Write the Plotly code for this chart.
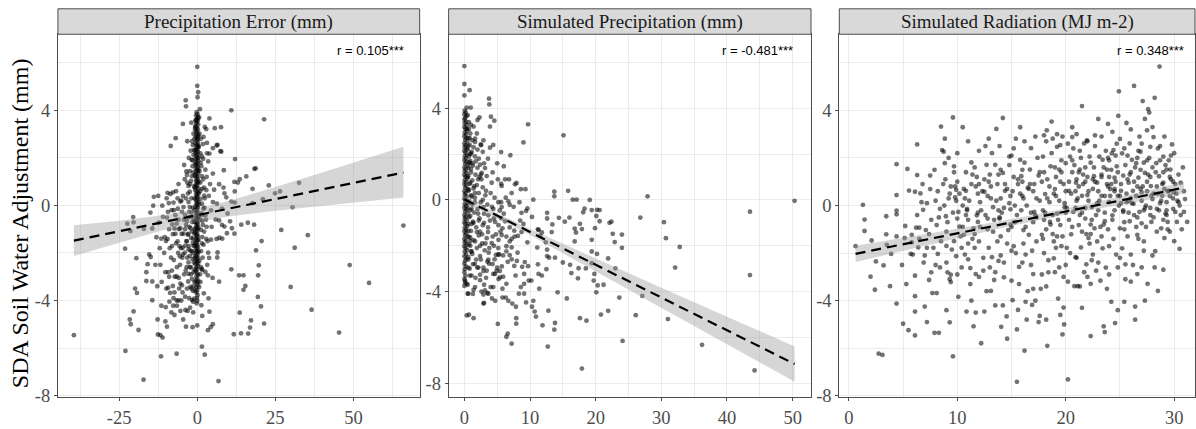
import plotly.graph_objects as go

# ---------------- data ----------------
panel_titles = ["Precipitation Error (mm)", "Simulated Precipitation (mm)", "Simulated Radiation (MJ m-2)"]
r_labels = ["r = 0.105***", "r = -0.481***", "r = 0.348***"]

x_ticks_1 = [-25, 0, 25, 50]
x_ticks_2 = [0, 10, 20, 30, 40, 50]
x_ticks_3 = [0, 10, 20, 30]
y_ticks = [-8, -4, 0, 4]

# Panel 1: Precipitation Error vs SDA adjustment
p1_scatter = [
(0,5.83),(0,5.03),(0.3,4.76),(0.1,4.55),(-3.7,4.42),(-3.6,4.17),(0.85,4.05),(10.9,4.0),(21.4,3.62),(3.9,3.66),(-4.6,3.43),(-1.9,3.48),(5.6,3.25),(7.6,3.29),(2.9,3.21),(-6.9,2.83),(-8.5,2.5),(1.8,2.58),(3.1,2.63),(5.0,2.41),(6.2,2.52),(6.5,2.55),(7.4,2.28),(7.7,2.26),(12.1,1.95),(1.0,2.19),(3.1,2.19),(3.9,2.18),(1.9,1.96),(3.5,1.85),(18.3,1.54),(18.7,1.56),(8.5,1.48),(15.7,1.22),(13.6,1.10),(13.0,0.96),(11.9,0.99),(5.0,1.34),(-6.0,0.9),(-3.2,0.96),(-3.5,1.43),(-3.3,1.28),(22.9,0.84),(32.6,0.95),(26.5,0.59),(24.9,0.51),(21.0,0.26),(17.7,0.70),(12.0,0.59),(8.7,0.51),(7.0,0.89),(2.9,0.64),(5.4,0.66),(2.2,0.41),(-13.9,0.36),(-9.5,0.53),(-8.6,0.48),(-7.8,0.55),(-5.4,0.16),(-7.6,0.12),(-9.1,0.1),(-11.2,-0.01),(-14.1,-0.01),(10.9,0.16),(12.0,0.12),(30.5,-0.08),(17.7,0.1),
(-20.5,-0.49),(-20.4,-0.71),(-21.4,-1.08),(-22.4,-0.77),(-17.1,-0.99),(-14.4,-0.97),(-9.4,-0.27),(-9.7,-0.51),(-11.0,-0.48),(-12.3,-0.73),(-13.1,-1.34),(-11.5,-1.40),(-10.4,-1.34),(-9.5,-1.41),(-7.8,-1.21),(-7.3,-0.97),(-6.6,-0.77),(-5.4,-0.96),(-4.4,-1.19),(-6.3,-1.51),(-8.1,-1.71),(-5.7,-1.71),(-4.7,-1.78),(-3.8,-1.69),(-2.8,-1.85),(-4.0,-1.99),(-4.6,-2.07),(-5.6,-2.14),
(1.6,-0.64),(2.8,-0.6),(5.9,-0.59),(7.0,-0.63),(8.7,-0.89),(10.5,-0.67),(14.1,-0.81),(16.2,-0.73),(18.2,-0.81),(26.9,-1.03),(35.4,-1.25),(31.2,-1.78),(20.6,-1.5),(18.8,-1.89),(11.9,-1.19),(8.0,-1.40),(7.1,-1.36),(6.2,-1.41),(4.4,-1.44),(2.9,-1.41),(1.6,-1.33),(3.5,-1.99),(6.5,-1.98),(6.4,-2.19),(3.8,-2.21),(1.6,-2.72),(3.4,-2.94),(4.9,-3.05),(7.0,-3.21),(10.9,-2.69),(13.4,-2.94),(14.8,-2.94),(19.7,-2.52),(19.5,-2.94),(15.4,-3.39),(14.8,-3.55),(19.4,-3.85),(20.4,-4.25),(29.9,-3.43),(36.6,-4.39),(48.8,-2.51),(55.0,-3.26),(45.4,-5.35),(3.6,-3.91),(3.9,-4.47),(13.6,-4.51),(11.7,-5.42),(14.0,-5.38),(16.3,-5.39),(16.9,-5.14),(17.2,-4.84),(21.4,-4.97),(3.4,-5.25),(4.3,-5.12),(5.0,-5.0),(1.6,-4.65),(1.5,-5.94),(2.4,-6.28),(6.8,-7.39),(66.0,-0.85),
(-39.5,-5.46),(-23.0,-6.12),(-17.2,-7.33),(-11.6,-6.35),(-6.6,-6.24),(-11.8,-5.46),(-11.1,-5.56),(-12.6,-5.43),(-18.8,-5.24),(-21.3,-5.0),(-21.6,-4.80),(-20.4,-4.46),(-19.3,-3.68),(-19.9,-3.5),(-23.1,-1.82),(-19.5,-2.22),(-15.4,-2.06),(-14.9,-2.17),(-15.9,-2.47),(-16.3,-2.81),(-16.3,-3.18),(-14.4,-3.2),(-14.4,-3.99),(-12.7,-4.80),(-11.5,-4.22),(-10.2,-4.88),(-9.7,-5.10),(-10.1,-4.28),(-11.4,-3.22),(-10.2,-2.81),(-9.3,-2.81),(-8.1,-2.74),(-9.3,-3.46),(-9.9,-3.5),(-8.7,-3.68),(-7.3,-3.66),(-7.8,-3.39),(-4.9,-3.36),(-3.7,-2.74),(-6.6,-2.99),(-5.9,-3.05),(-5.4,-3.29),(-4.7,-3.66),(-3.9,-3.84),(-6.6,-4.0),(-6.0,-4.0),(-8.9,-4.05),(-7.7,-4.22),(-6.5,-4.22),(-5.4,-4.44),(-7.3,-4.61),(-3.1,-4.44),(-1.7,-3.98),(-1.3,-4.05),(-1.0,-3.92),(-3.6,-5.10),(-1.5,-5.12),(0,-5.05),
(-7.0,-0.41),(-6.2,-0.14),(-4.9,-0.27),(-4.4,-0.07),(-2.8,0.14),(-2.4,-0.07),(-2.6,-0.27),(-2.0,-0.48),(-3.3,-0.66),(-3.6,-0.82),(-2.2,-0.96),(-1.7,-1.10),(-3.0,-1.23),(-2.0,-1.37),(-3.3,-1.51),(-1.4,-1.58),(-2.7,-1.71),(-1.7,-1.92),(-2.4,-2.13),(-1.5,-2.26),(-2.8,-2.40),(-2.0,-2.61),(-1.2,-2.81),(-2.8,-2.88),(-1.7,-3.09),(-0.9,-3.22),(-2.2,-3.43),(-1.4,-3.59),(-2.4,0.58),(-2.8,0.82),(-2.0,1.03),(-1.7,1.23),(-2.4,1.44),(-1.5,1.65),(-1.8,1.92),(-1.2,2.13),(-1.0,2.33),(-1.4,2.54),(-0.9,2.81),(-1.2,3.02),(-0.6,3.29),(-0.5,3.57),
(1.0,0.27),(1.5,0.07),(2.0,-0.14),(1.3,-0.34),(2.6,-0.41),(1.8,-0.82),(1.2,-1.03),(2.0,-1.65),(1.2,-1.92),(0.7,-2.33),(1.4,-2.67),(1.0,-3.22),(0.6,-3.43),(1.5,1.23),(1.0,0.96),(2.2,0.75),(1.3,1.65),(0.7,1.44),(1.5,2.06),(0.4,2.47),(2.0,2.88),(0.7,3.02),(5.0,0.14),(4.4,-0.21),(6.3,0.07),(7.9,-0.14),(9.3,0.34),(8.4,0.75),(9.7,-0.34),(7.9,-0.82),(9.5,-1.17),(11.1,-0.96),
]
p1_cloud = [
(-9.0,-1.0),(-8.2,-0.2),(-7.5,-2.3),(-6.8,-1.6),(-6.0,-0.6),(-5.5,-2.5),(-5.0,-1.2),(-4.6,0.4),(-4.2,-2.9),(-3.9,-0.4),(-3.5,-1.5),(-3.2,-2.2),(-2.9,-3.2),(-2.5,-0.9),(-2.2,-1.9),(-1.9,0.3),(-1.6,-0.7),(-1.3,-1.4),(-1.1,-2.4),(-1.0,0.8),(-0.9,-1.0),(-1.5,1.9),(-2.1,2.3),(-1.2,1.4),(-3.0,0.5),(-4.0,1.1),(-5.2,-1.8),(-6.5,-2.6),(-7.2,-3.0),(-8.4,-2.2),(-10.6,-2.0),(-12.0,-1.8),(-13.4,-2.5),(-8.0,-0.8),(-6.3,0.3),(-9.8,0.3),(-12.5,0.4),(-15.0,-0.3),(-5.8,-3.5),(-4.5,-4.8),(-3.3,-3.5),(-2.3,-4.3),(-8.3,-4.5),(-2.0,-2.9),(-1.2,-3.4),(1.2,-2.6),(2.2,-1.1),(1.5,-1.6),(3.0,-0.9),(2.4,0.3),(1.9,1.1),(1.1,1.8),(2.6,1.5),(3.7,0.4),(4.6,-0.9),(3.2,-2.5),(2.1,-3.7),(1.3,-4.2),(0.9,-2.9),(0.8,-0.6),(0.9,0.6),(1.1,2.8),(2.4,3.3),(0.6,3.7),(-1.8,-0.3),(-2.9,-0.5),(-3.9,-1.0),(-1.4,-0.1),(-2.3,0.9),
(-7.5,-0.2),(-6.8,0.6),(-5.9,-1.0),(-5.1,0.2),(-4.3,-0.6),(-3.6,0.3),(-2.9,-1.2),(-2.4,-2.6),(-1.9,-3.5),(-1.5,-2.0),(-1.1,-0.6),(-1.2,-1.7),(-3.4,-2.6),(-4.8,-2.2),(-6.1,-2.0),(-7.0,-1.2),(-8.8,-1.8),(-10.0,-1.5),(-11.8,-2.5),(-12.8,-3.4),(-9.0,-3.0),(-7.6,-3.9),(-5.1,-4.0),(-3.8,-4.4),(-2.6,-3.9),(-1.3,-4.5),(-4.2,1.7),(-2.7,2.0),(-1.7,2.7),(-3.2,2.7),(1.7,-2.2),(2.6,-2.8),(2.3,-0.1),(3.3,-1.5),(4.1,0.9),(3.0,1.2),(1.5,0.7),(1.6,-0.4),
]
p1_column = [
(-0.2,3.92),(0.1,3.84),(-0.4,3.78),(0.2,3.71),(-0.1,3.65),(-0.5,3.58),(0.0,3.52),(-0.3,3.46),(0.3,3.40),(-0.6,3.33),(-0.1,3.27),(0.2,3.2),(-0.4,3.14),(0.0,3.08),(-0.2,3.01),(0.3,2.95),(-0.5,2.9),(-0.1,2.84),(0.1,2.78),(-0.3,2.72),(0.2,2.66),(-0.6,2.6),(0.0,2.55),(-0.2,2.49),(0.3,2.43),(-0.4,2.38),(-0.1,2.32),(0.2,2.26),(-0.5,2.2),(0.0,2.15),(-0.3,2.09),(0.1,2.03),(-0.6,1.97),(-0.1,1.92),(0.3,1.86),(-0.4,1.8),(0.0,1.74),(-0.2,1.69),(0.2,1.63),(-0.5,1.57),(-0.1,1.52),(0.1,1.46),(-0.3,1.4),(0.3,1.34),(-0.6,1.29),(0.0,1.23),(-0.2,1.17),(0.2,1.11),(-0.4,1.06),(-0.1,1.0),(0.1,0.94),(-0.5,0.88),(0.0,0.83),(-0.3,0.77),(0.3,0.71),(-0.7,0.65),(-0.1,0.6),(0.2,0.54),(-0.4,0.48),(0.0,0.42),(-0.2,0.37),(0.1,0.31),(-0.5,0.25),(-0.1,0.19),(0.3,0.14),(-0.3,0.08),(0.0,0.02),(-0.6,-0.04),(0.2,-0.09),(-0.2,-0.15),(0.0,-0.21),(-0.4,-0.27),(0.1,-0.32),(-0.1,-0.38),(-0.5,-0.44),(0.3,-0.5),(-0.2,-0.55),(0.0,-0.61),(-0.6,-0.67),(-0.1,-0.73),(0.2,-0.78),(-0.3,-0.84),(0.0,-0.9),(-0.5,-0.96),(0.1,-1.01),(-0.2,-1.07),(-0.7,-1.13),(0.0,-1.19),(-0.3,-1.24),(0.2,-1.3),(-0.1,-1.36),(-0.5,-1.42),(0.1,-1.47),(-0.2,-1.53),(-0.6,-1.59),(0.0,-1.65),(-0.3,-1.7),(0.2,-1.76),(-0.1,-1.82),(-0.5,-1.88),(0.0,-1.93),(-0.3,-1.99),(0.1,-2.05),(-0.6,-2.11),(-0.1,-2.16),(0.2,-2.22),(-0.4,-2.28),(0.0,-2.34),(-0.2,-2.4),(-0.6,-2.47),(0.1,-2.54),(-0.3,-2.61),(0.0,-2.68),(-0.5,-2.76),(-0.1,-2.84),(0.2,-2.92),(-0.3,-3.0),(0.0,-3.09),(-0.5,-3.18),(-0.1,-3.27),(0.1,-3.36),(-0.3,-3.46),(0.0,-3.56),(-0.2,-3.67),(0.1,-3.78),(-0.1,-3.9),(0.0,-4.02),(-0.2,-4.12),
(0.4,2.5),(-0.7,2.3),(0.4,2.0),(-0.7,1.75),(0.4,1.5),(-0.8,1.25),(0.4,1.0),(-0.8,0.75),(0.5,0.5),(-0.9,0.3),(0.5,0.05),(-0.9,-0.2),(0.5,-0.45),(-0.9,-0.7),(0.4,-0.95),(-0.9,-1.2),(0.4,-1.45),(-0.8,-1.7),(0.4,-1.95),(-0.8,-2.2),(0.3,-2.45),(-0.8,-2.7),(0.3,-3.2),(-0.7,-3.6),(0.3,2.9),(-0.7,3.2),(0.2,3.6),
]
p1_fit_x = [-39.5, 66.0]
p1_fit_y = [-1.48, 1.38]
p1_band_x = [-39.5, -25, -12, -1, 10, 25, 40, 52, 66]
p1_band_hi = [-0.83, -0.64, -0.42, -0.17, 0.19, 0.77, 1.39, 1.90, 2.47]
p1_band_lo = [-2.13, -1.58, -1.08, -0.72, -0.47, -0.22, -0.01, 0.15, 0.33]

# Panel 2: Simulated Precipitation vs SDA adjustment
p2_scatter = [
(0,5.84),(0,5.06),(0,4.56),(0.8,4.79),(0.35,4.03),(0.96,4.03),(3.75,4.42),(3.8,4.17),(4.05,3.63),(4.56,3.46),(3.9,3.2),(2.0,3.49),(1.0,3.28),(2.5,2.42),(9.7,3.3),(15.1,2.82),(9.0,2.51),(3.9,2.28),(5.6,2.09),(7.0,1.95),(6.0,1.47),(6.8,0.90),(5.6,0.71),(7.7,0.68),(7.95,0.74),(8.6,0.47),(9.3,0.47),(10.5,0.01),(13.7,0.36),(13.7,0.16),(15.8,0.4),(16.5,0.01),(17.1,0.01),(19.1,0.0),(27.9,0.16),(50.3,-0.04),(43.5,-0.51),(26.8,-0.77),(30.4,-0.97),(30.7,-1.67),(32.8,-2.05),(32.1,-2.95),(43.5,-3.28),(36.2,-6.32),(44.2,-7.44),(17.9,-7.36),(24.1,-6.15),(31.0,-5.2),(26.1,-5.03),(21.9,-4.84),(20.8,-5.0),(23.6,-4.26),(27.1,-4.19),(20.1,-4.03),(18.6,-5.27),(17.6,-5.16),(15.6,-4.3),(14.2,-4.03),(12.8,-4.83),(12.7,-6.4),(13.8,-5.37),(13.7,-5.66),(11.9,-5.47),(10.9,-5.09),(10.7,-4.87),(10.5,-4.40),(10.3,-4.66),(9.4,-4.47),(9.1,-4.09),(7.9,-5.16),(7.9,-5.4),(7.2,-6.27),(6.6,-5.83),(6.4,-5.97),(5.1,-5.41),(1.4,-5.16),(0.7,-5.01),(0.35,-5.04),(3.0,-4.49),(2.9,-4.13),(3.5,-4.06),(1.4,-3.92),(0.5,-4.09),(0.35,-3.66),(5.8,-4.26),(6.3,-4.26),(6.7,-4.40),(7.3,-4.52),(7.85,-4.66),(8.3,-4.09),(8.6,-3.80),(9.1,-3.66),(9.8,-3.52),(10.2,-3.52),(11.4,-3.87),(11.8,-3.30),(12.5,-3.02),(12.6,-2.45),(12.9,-2.52),(12.6,-2.17),(13.8,-2.52),(15.0,-2.73),(16.1,-2.83),(16.3,-3.19),(17.3,-3.42),(17.4,-2.98),(18.5,-2.99),(19.4,-2.76),(19.8,-3.23),(19.7,-3.52),(20.3,-3.73),(21.2,-3.70),(21.9,-2.55),(19.4,-1.74),(19.4,-2.25),(20.2,-2.35),(20.1,-0.70),(20.2,-0.43),(20.6,-0.44),(20.6,-0.93),(19.9,-1.23),(22.1,-1.0),(22.4,-0.95),(22.6,-1.48),(22.9,-1.84),(24.0,-1.51),(24.0,-2.09),(23.0,-2.99),(18.1,-0.54),(18.3,-0.38),(19.4,-0.44),(17.6,-1.04),(17.9,-1.27),(16.8,-1.25),(16.8,-1.81),(17.0,-1.42),(16.0,-0.77),(15.3,-0.95),(14.4,-0.78),(13.4,-1.07),(13.3,-1.40),(12.6,-0.56),(12.6,-0.81),(11.8,-1.42),(11.3,-1.31),(12.4,-1.85),(11.1,-2.08),(11.2,-2.81),(11.3,-3.23),(9.7,-2.89),(9.2,-2.71),(9.1,-3.23),(8.8,-2.92),(8.0,-2.66),(7.6,-2.88),(7.2,-2.59),(6.9,-2.41),(6.4,-2.02),(5.9,-2.42),(5.3,-2.38),(5.0,-2.95),(4.6,-2.59),(3.75,-2.78),(3.5,-2.69),(2.9,-2.95),(1.97,-2.95),(2.4,-3.26),(4.4,-3.23),(4.9,-3.09),(5.2,-3.45),(5.9,-3.35),(6.4,-3.66),(5.8,-3.87),(4.0,-3.80),
(9.6,-0.37),(9.4,-0.48),(8.7,-0.56),(8.5,-0.90),(7.6,-1.34),(7.65,-1.60),(8.15,-1.57),(9.6,-1.85),(9.0,-1.05),(10.3,-0.74),(11.2,-1.28),(11.55,-1.57),(5.6,-0.1),(5.4,-0.46),(6.7,-0.06),(6.9,-0.21),(6.2,-0.93),(5.8,-1.24),(5.2,-1.10),(5.5,-1.38),(5.2,-1.74),(6.4,-1.60),(6.9,-1.81),(7.2,-2.07),(6.4,-2.24),
(2.54,2.39),(1.63,2.68),(1.63,2.53),(1.0,2.03),(1.73,1.68),(2.39,1.54),(3.15,1.39),(2.64,1.18),(3.4,1.04),(2.1,0.9),(4.16,0.75),(5.17,-0.1),(4.4,-0.39),(2.9,-0.31),(1.6,-0.1),(3.65,-0.67),(4.67,-0.96),(2.39,-1.38),(3.4,-1.67),(1.63,-1.81),(4.16,-1.88),(5.17,-2.1),(1.12,-2.24),(2.39,-2.45),(3.65,-2.6),(5.17,-2.38),(0.61,-2.95),(2.13,-2.95),(3.4,-3.09),(4.67,-3.23),(5.43,-3.38),(0.11,-3.52),(1.63,-3.8),(3.14,-3.95),(4.4,-3.8),(0.61,-4.09),(2.9,-4.52),(3.65,-4.09),(5.68,0.61),(5.68,-0.31),(5.68,-1.53),
(1.5,0.6),(2.1,-0.6),(2.7,-1.5),(3.3,0.4),(3.9,-0.9),(4.5,-2.0),(5.1,0.9),(5.7,-2.9),(6.3,0.1),(6.9,-1.2),(7.5,-0.3),(8.1,-2.3),(8.7,-1.4),(1.8,-2.6),(2.4,-2.0),(3.0,-3.7),(3.6,-1.2),(4.2,-0.3),(4.8,-2.4),(5.4,-3.1),(6.0,-0.6),(6.6,-2.7),(7.2,-1.7),(7.8,-3.3),(8.4,-0.1),(1.2,1.6),(2.0,2.2),(2.9,2.6),(3.6,1.8),(4.4,2.4),(5.0,1.6),(6.2,0.9),(7.2,0.3),(1.7,-3.4),(2.6,-4.0),(4.7,-4.4),(3.2,-1.9),(2.2,-0.9),(1.1,-0.4),(1.4,-1.0),(0.9,-1.8),(1.9,-1.4),(2.8,0.0),(3.7,-2.3),(4.3,-1.6),(5.6,-0.8),(0.8,1.6),(1.6,0.3),(2.5,1.1),(1.3,-2.8),
]
p2_cluster = [
(0.5,3.7),(0.7,3.4),(0.4,3.1),(0.9,2.9),(0.6,2.7),(1.2,2.6),(0.8,2.4),(1.4,2.3),(0.5,2.2),(1.1,2.1),(0.7,1.9),(1.6,1.9),(0.9,1.7),(1.3,1.5),(0.6,1.4),(2.0,1.4),(1.0,1.2),(1.7,1.1),(0.5,1.0),(2.3,1.0),(1.2,0.85),(0.8,0.7),(1.9,0.65),(2.8,0.55),(1.4,0.5),(0.6,0.4),(2.2,0.3),(1.0,0.2),(3.2,0.2),(1.6,0.1),(0.7,-0.05),(2.5,-0.1),(1.2,-0.2),(0.5,-0.35),(2.0,-0.4),(1.5,-0.55),(3.0,-0.6),(0.9,-0.7),(2.3,-0.8),(1.3,-0.95),(0.6,-1.05),(2.8,-1.1),(1.8,-1.2),(1.0,-1.35),(3.6,-1.4),(2.2,-1.55),(0.7,-1.6),(1.4,-1.75),(2.7,-1.9),(0.9,-2.0),(1.9,-2.1),(3.1,-2.2),(1.2,-2.35),(0.6,-2.5),(2.5,-2.6),(1.6,-2.8),(0.8,-3.0),(2.9,-3.1),(1.1,-3.3),(0.5,-3.7),(2.4,-3.5),(1.3,-4.1),(4.2,-4.3),(3.0,-1.0),(3.5,-0.2),(4.0,0.3),(4.5,-0.8),(4.8,-1.5),(3.8,-2.1),(4.3,-2.8),(3.3,-3.4),(2.6,0.9),(3.0,1.6),(2.2,1.8),(2.8,2.1),(1.9,2.9),(1.4,3.2),(2.3,3.6),(4.3,1.2),(4.6,0.1),
(0.05,3.9),(0.2,3.82),(0.0,3.74),(0.3,3.66),(0.1,3.58),(0.0,3.5),(0.25,3.42),(0.05,3.34),(0.35,3.26),(0.0,3.18),(0.15,3.1),(0.4,3.02),(0.05,2.94),(0.25,2.86),(0.0,2.78),(0.3,2.7),(0.1,2.62),(0.45,2.54),(0.0,2.46),(0.2,2.38),(0.05,2.3),(0.35,2.22),(0.0,2.14),(0.15,2.06),(0.4,1.98),(0.05,1.9),(0.25,1.82),(0.0,1.74),(0.3,1.66),(0.1,1.58),(0.5,1.5),(0.0,1.42),(0.2,1.34),(0.05,1.26),(0.35,1.18),(0.0,1.1),(0.15,1.02),(0.45,0.94),(0.05,0.86),(0.25,0.78),(0.0,0.7),(0.3,0.62),(0.1,0.54),(0.5,0.46),(0.0,0.38),(0.2,0.3),(0.05,0.22),(0.35,0.14),(0.0,0.06),(0.15,-0.02),(0.45,-0.1),(0.05,-0.18),(0.25,-0.26),(0.0,-0.34),(0.3,-0.42),(0.1,-0.5),(0.5,-0.58),(0.0,-0.66),(0.2,-0.74),(0.05,-0.82),(0.35,-0.9),(0.0,-0.98),(0.15,-1.06),(0.45,-1.14),(0.05,-1.22),(0.25,-1.3),(0.0,-1.38),(0.3,-1.46),(0.1,-1.54),(0.5,-1.62),(0.0,-1.7),(0.2,-1.78),(0.05,-1.86),(0.35,-1.94),(0.0,-2.02),(0.15,-2.1),(0.4,-2.18),(0.05,-2.26),(0.25,-2.36),(0.0,-2.46),(0.3,-2.56),(0.1,-2.66),(0.0,-2.78),(0.2,-2.9),(0.05,-3.02),(0.0,-3.16),(0.15,-3.3),(0.0,-3.45),(0.1,-3.6),(0.0,-3.75),
(0.7,3.1),(0.8,2.7),(0.6,2.35),(0.9,2.0),(0.7,1.65),(1.0,1.35),(0.6,1.05),(0.9,0.75),(0.7,0.45),(1.1,0.15),(0.6,-0.15),(0.9,-0.45),(0.7,-0.75),(1.1,-1.05),(0.6,-1.35),(0.9,-1.65),(0.7,-1.95),(1.0,-2.25),(0.6,-2.6),(0.8,-3.3),
]
p2_fit_x = [0.0, 50.3]
p2_fit_y = [0.03, -7.16]
p2_band_x = [0, 5, 10, 20, 30, 40, 50.3]
p2_band_hi = [0.18, -0.575, -1.27, -2.565, -3.833, -5.095, -6.39]
p2_band_lo = [-0.12, -0.795, -1.53, -3.095, -4.687, -6.285, -7.93]

# Panel 3: Simulated Radiation vs SDA adjustment
p3_scatter = [
(0.62,-1.71),(1.3,0.03),(1.45,-0.59),(1.45,-1.07),(2.0,-2.99),(2.1,-1.47),(2.4,-3.54),(2.5,-2.35),(2.75,-6.23),(3.1,-6.28),(3.2,-2.52),(3.45,-0.45),(3.45,-1.21),(3.5,-1.65),(3.8,-3.39),(3.9,-2.03),(4.4,1.74),(4.4,0.44),(4.4,-0.21),(4.4,-0.37),(4.4,-1.30),(4.4,-4.12),(4.9,-2.50),(5.0,-4.97),(5.15,-1.37),(5.2,-0.86),(5.4,1.54),(5.5,-5.24),(5.55,0.63),(5.7,-2.03),(5.8,-1.23),(5.8,-1.55),(5.9,-2.06),(6.1,0.58),(6.1,-5.46),(6.1,-3.81),(6.1,-2.95),(6.1,-4.46),(6.2,-0.93),(6.3,2.57),(6.3,1.28),(6.4,-1.76),(6.5,-0.93),(6.6,0.51),(6.7,0.14),(6.85,-0.18),(7.0,-4.25),(7.1,-1.03),(7.2,-1.78),(7.4,-3.13),(7.5,1.26),(7.5,0.69),(7.6,-2.81),(7.7,-3.68),(7.8,-1.78),(7.9,-5.35),(8.1,-3.68),(8.1,-0.82),(8.2,-2.03),(8.3,-5.35),(8.4,-0.14),(8.5,3.32),(8.6,2.33),(8.75,2.26),(8.85,2.81),(8.85,1.78),(8.95,-0.45),(9.0,-2.40),(9.1,-2.81),(9.2,0.30),(9.3,-4.91),(9.4,-3.22),(9.4,-2.91),(9.5,-1.85),(9.6,3.70),(9.6,-6.34),(9.7,1.65),(9.7,1.40),(9.8,0.34),(9.9,0.66),(9.9,-2.13),(10.0,-0.55),(10.1,-0.27),(10.1,-3.84),(10.2,-0.89),(10.4,-1.78),(10.5,0.0),(10.5,3.29),(10.6,-1.23),(10.7,-2.06),(10.8,0.62),(10.85,-4.46),(10.9,-0.14),(11.0,-2.26),(11.2,-2.63),(11.3,1.81),(11.4,1.30),(11.5,-0.96),(11.5,-5.08),(11.6,-1.78),(11.7,-2.88),(11.7,-4.50),(11.8,-0.41),(11.9,-0.69),(12.0,-1.51),(12.1,0.14),(12.2,-5.79),(12.4,-2.74),(12.5,-4.46),(12.5,0.58),(12.6,2.50),(12.7,1.71),(12.8,-0.55),(12.9,2.81),(12.9,-1.78),(13.1,-3.59),(13.2,-2.17),(13.3,-0.07),(13.4,-3.13),(13.5,1.71),(13.6,3.22),(13.7,-1.51),(13.8,-2.33),(13.9,-0.55),(14.05,-5.10),(14.2,3.68),(14.2,1.37),(14.3,-3.02),(14.4,0.62),(14.55,-4.66),(14.6,-5.60),(14.7,-1.03),(14.8,2.06),(14.9,-0.16),(15.0,-3.16),(15.1,-3.98),(15.2,-1.71),(15.3,0.0),(15.4,2.81),(15.5,-7.41),(15.5,-5.21),(15.6,-4.39),(15.7,-2.58),(15.8,3.29),(15.8,1.92),(15.9,1.23),(16.0,0.41),(16.1,-1.03),(16.2,-6.10),(16.3,-2.06),(16.3,-4.05),(16.4,-4.80),(16.5,0.75),(16.6,-1.23),(16.7,1.51),(16.8,2.41),(16.9,-4.18),(17.0,-2.88),(17.1,-0.27),(17.2,-0.41),(17.3,-1.51),(17.5,1.26),(17.6,-4.64),(17.7,-3.50),(17.8,-1.23),(17.9,2.06),(18.0,2.95),(18.1,0.48),(18.2,-4.80),(18.25,3.16),(18.3,-5.90),(18.4,-2.81),(18.5,0.14),(18.55,-0.69),(18.6,1.65),(18.7,3.53),(18.8,2.81),(18.9,-1.51),(18.9,-2.22),(19.0,0.69),(19.1,-1.78),(19.2,2.47),(19.2,-0.34),(19.3,-3.91),(19.4,1.51),(19.5,-0.82),(19.5,2.54),(19.6,-1.71),(19.7,-5.42),(19.8,-4.29),(19.85,-5.0),(19.9,-0.07),(20.0,1.78),(20.1,-1.78),(20.2,-7.31),(20.3,0.62),(20.4,2.06),(20.5,-1.21),(20.6,3.29),(20.6,2.88),(20.7,-0.27),(20.8,-3.39),(20.9,-2.17),(20.95,0.96),(21.1,-3.39),(21.2,-0.82),(21.3,1.51),(21.3,-3.40),(21.4,-1.76),(21.5,4.18),(21.5,0.41),(21.6,1.30),(21.7,2.61),(21.8,-0.55),(21.9,-2.47),(21.95,2.74),(22.0,0.44),(22.1,-1.37),(22.2,2.06),(22.3,-5.49),(22.3,-3.29),(22.4,-0.07),(22.5,-2.06),(22.6,1.23),(22.65,-0.96),(22.7,2.95),(22.8,-2.74),(22.9,-1.51),(22.9,0.96),(23.0,3.64),(23.1,2.06),(23.2,-3.16),(23.3,0.41),(23.3,-1.30),(23.4,1.92),(23.5,-5.08),(23.6,-5.32),(23.6,-0.66),(23.7,-2.61),(23.8,1.51),(23.9,3.43),(24.0,0.14),(24.0,-1.71),(24.1,0.69),(24.2,-4.05),(24.25,2.19),(24.3,-0.41),(24.4,2.33),(24.5,1.17),(24.55,-4.94),(24.65,-2.06),(24.7,1.65),(24.8,0.41),(24.85,3.77),(24.9,4.80),(25.0,-0.96),(25.1,0.62),(25.2,2.19),(25.3,-0.27),(25.3,1.26),(25.4,-4.05),(25.5,-2.47),(25.6,0.14),(25.6,3.47),(25.7,-1.30),(25.8,0.96),(25.9,2.61),(25.9,-0.66),(26.0,-2.06),(26.1,1.92),(26.2,0.62),(26.25,0.07),(26.3,5.03),(26.4,-4.25),(26.4,-4.80),(26.5,1.78),(26.6,-1.23),(26.6,-2.88),(26.7,1.17),(26.8,-0.27),(26.9,2.26),(27.0,0.55),(27.0,-0.75),(27.1,4.39),(27.2,-1.51),(27.3,3.64),(27.3,1.37),(27.4,0.0),(27.5,3.16),(27.55,-3.29),(27.6,4.05),(27.7,3.91),(27.8,2.47),(27.85,0.82),(27.9,-0.69),(28.0,0.27),(28.1,2.88),(28.2,4.53),(28.25,-1.92),(28.35,1.78),(28.4,-0.14),(28.5,-3.59),(28.6,1.23),(28.65,5.84),(28.7,2.50),(28.8,-0.96),(28.9,0.41),(29.0,2.06),(29.0,0.96),(29.1,-1.37),(29.2,-0.34),(29.3,1.51),(29.3,0.14),(29.4,-0.69),(29.5,0.62),(29.6,-1.10),(29.65,1.51),(29.7,1.10),(29.8,2.57),(29.9,-0.14),(29.95,0.55),(30.1,-0.27),(30.25,-0.69),(30.4,0.14),(30.5,-1.82),(30.6,0.96),(30.9,-0.27),(31.0,0.27),(31.2,-0.69),
]
p3_dense = [
(8.0,0.2),(8.3,-0.5),(8.7,0.9),(9.0,-1.1),(9.3,0.5),(9.6,-0.3),(10.0,1.0),(10.3,-1.3),(10.7,0.3),(11.0,-0.6),(11.3,0.9),(11.6,-1.2),(11.9,0.5),(12.2,-0.2),(12.5,1.1),(12.8,-1.0),(13.1,0.3),(13.4,-0.6),(13.7,0.9),(14.0,-1.3),(14.3,-0.1),(14.6,0.7),(14.9,-0.8),(15.2,1.2),(15.5,-0.4),(15.8,0.5),(16.1,-1.6),(16.4,0.0),(16.7,0.9),(17.0,-0.7),(17.3,0.3),(17.6,1.4),(17.9,-0.2),(18.2,-1.0),(18.5,0.8),(18.8,-0.4),(19.1,1.2),(19.4,0.2),(19.7,-1.3),(20.0,0.6),(20.3,-0.6),(20.6,1.4),(20.9,-0.1),(21.2,0.8),(21.5,-1.1),(21.8,1.6),(22.1,0.2),(22.4,-0.6),(22.7,1.0),(23.0,-0.2),(23.3,1.3),(23.6,0.4),(23.9,-1.0),(24.2,0.9),(24.5,-0.2),(24.8,1.4),(25.1,0.1),(25.4,-0.7),(25.7,1.1),(26.0,0.3),(26.3,-0.4),(26.6,0.8),(26.9,1.5),(27.2,-0.2),(27.5,0.6),(27.8,1.2),(28.1,-0.5),(28.4,0.8),(28.7,0.1),(29.0,1.4),(29.3,-0.2),(29.6,0.4),(29.9,1.0),(30.2,0.5),(30.5,0.0),
(12.0,0.9),(13.0,1.3),(14.0,0.3),(15.0,-0.9),(16.0,1.5),(17.0,0.6),(18.0,-0.6),(19.0,1.6),(20.0,-0.3),(21.0,0.2),(22.0,1.2),(23.0,0.6),(24.0,1.9),(25.0,0.4),(26.0,1.4),(27.0,0.2),(28.0,1.6),(29.0,-0.6),(19.5,1.0),(20.5,0.5),(21.5,-0.3),(22.5,0.7),(23.5,-0.8),(24.5,0.6),(25.5,1.7),(26.5,-0.9),(27.5,1.9),(28.5,0.5),(18.3,0.3),(17.8,1.0),(16.8,-0.3),(15.6,0.9),(14.8,0.1),(13.8,-0.2),(12.8,0.4),(11.8,1.2),(10.8,-0.4),(9.8,0.8),(21.0,1.1),(22.3,-1.2),(23.8,0.9),(25.8,-0.3),(27.8,-0.1),(29.4,0.6),(26.6,2.0),(24.6,2.1),(21.3,2.3),(19.6,1.9),
]
p3_extra = [
(6.3,-0.4),(6.8,0.9),(6.5,-1.4),(6.9,-2.4),(7.2,0.1),(7.6,-0.6),(7.9,1.5),(7.4,-1.2),(8.2,0.6),(8.5,-1.5),(8.8,0.0),(8.4,-2.6),(8.9,1.1),(9.1,-0.7),(9.4,0.8),(9.7,-1.5),(9.9,0.2),(9.3,-3.1),
(10.2,0.5),(10.5,-0.9),(10.8,1.4),(10.4,-2.6),(10.9,-0.2),(10.6,0.7),(11.1,0.2),(11.4,-1.4),(11.7,0.8),(11.9,-0.3),(11.2,-3.3),(11.6,1.6),(12.1,-0.9),(12.3,0.6),(12.6,-0.4),(12.9,1.0),(12.4,-2.2),(12.7,-3.6),
(13.1,0.8),(13.3,-1.1),(13.6,0.2),(13.9,-0.5),(13.5,-2.8),(13.8,1.3),(13.2,2.2),(14.1,-0.3),(14.4,0.9),(14.6,-1.6),(14.9,0.4),(14.3,-2.4),(14.8,1.7),(14.2,-4.2),
(15.1,0.6),(15.3,-0.7),(15.6,1.1),(15.9,-0.2),(15.4,-2.0),(15.7,-3.3),(15.2,2.4),(16.1,0.3),(16.3,-0.9),(16.6,0.7),(16.9,-1.9),(16.2,1.8),(16.8,-2.5),(16.5,-3.6),
(17.1,0.9),(17.3,-0.5),(17.6,0.2),(17.9,-1.4),(17.4,2.0),(17.8,-2.9),(17.2,-4.0),(18.1,-0.3),(18.3,1.1),(18.6,-0.8),(18.9,0.5),(18.4,-2.3),(18.7,2.2),(18.2,-3.4),(18.8,-1.2),
(19.1,0.4),(19.3,-0.6),(19.6,1.4),(19.9,0.1),(19.4,-2.6),(19.7,2.9),(19.2,-1.3),(19.8,-3.0),(20.1,-0.1),(20.3,1.0),(20.6,-0.9),(20.9,0.6),(20.4,-2.0),(20.7,2.4),(20.2,-3.2),(20.8,1.7),
(21.1,0.3),(21.3,-0.4),(21.6,0.9),(21.9,-1.2),(21.4,2.0),(21.7,-2.8),(21.2,1.4),(21.8,-0.1),(22.1,0.6),(22.3,-0.8),(22.6,1.6),(22.9,0.1),(22.4,-2.3),(22.7,2.5),(22.2,-1.6),(22.8,-0.4),(22.5,1.1),
(23.1,0.2),(23.3,1.2),(23.6,-0.3),(23.9,0.8),(23.4,-1.8),(23.7,2.3),(23.2,-0.9),(23.8,-3.5),(23.5,1.6),(24.1,0.4),(24.3,-0.6),(24.6,1.0),(24.9,0.0),(24.4,-1.4),(24.7,2.6),(24.2,1.5),(24.8,-2.6),(24.5,0.7),
(25.1,0.9),(25.3,-0.2),(25.6,0.5),(25.9,1.3),(25.4,-1.0),(25.7,2.1),(25.2,-1.8),(25.8,0.2),(25.5,-3.1),(26.1,0.1),(26.3,1.0),(26.6,-0.5),(26.9,0.7),(26.4,1.6),(26.7,-1.4),(26.2,-2.5),(26.8,2.9),(26.5,0.4),
(27.1,0.8),(27.3,-0.1),(27.6,1.3),(27.9,0.4),(27.4,-0.9),(27.7,2.0),(27.2,-1.9),(27.8,-0.4),(27.5,1.0),(28.1,0.5),(28.3,1.4),(28.6,-0.2),(28.9,0.9),(28.4,-1.1),(28.7,1.9),(28.2,-2.6),(28.8,0.2),
(29.1,0.7),(29.3,-0.4),(29.6,1.2),(29.9,0.3),(29.4,-1.0),(29.7,2.1),(29.2,1.7),(30.1,0.9),(30.3,0.2),(30.6,-0.4),(30.9,0.6),(30.4,1.3),(30.7,-1.0),
(19.2,3.0),(20.2,2.6),(21.0,3.0),(22.0,2.7),(23.3,2.9),(24.3,3.1),(25.0,2.8),(26.0,3.2),(27.0,2.6),(28.0,3.3),(29.1,2.9),(30.0,2.2),(18.2,2.7),(17.2,2.9),(16.2,2.7),(15.0,2.1),(13.9,2.5),(12.0,2.3),(11.0,2.7),(10.0,2.2),(9.2,2.0),(20.6,1.9),(22.3,1.8),(23.9,2.0),(25.4,2.4),(26.7,2.3),(28.5,2.4),(29.5,1.9),(30.8,1.6),(27.2,1.8),(24.0,1.2),(21.8,1.0),(19.8,0.9),(18.0,1.4),(16.0,1.0),(14.0,1.5),
(19.0,-2.8),(20.0,-2.5),(21.0,-2.2),(22.0,-3.0),(23.0,-2.4),(24.0,-2.9),(25.0,-2.2),(26.0,-3.2),(27.0,-2.6),(28.0,-2.1),(29.0,-2.7),(30.0,-1.5),(18.0,-2.0),(17.0,-3.5),(16.0,-2.4),(15.0,-1.9),(14.0,-2.1),(13.0,-2.6),(12.0,-3.0),(11.0,-1.6),(10.0,-2.9),(9.0,-1.7),(8.0,-2.5),(7.0,-2.1),(21.5,-4.3),(24.8,-4.4),(27.3,-4.0),(19.5,-4.6),(17.5,-4.9),(13.5,-4.2),(11.3,-4.0),(9.0,-4.4),(7.2,-4.9),(5.3,-3.3),
]
p3_fit_x = [0.62, 30.9]
p3_fit_y = [-2.03, 0.75]
p3_band_x = [0.62, 5, 10, 15, 20, 25, 30.9]
p3_band_hi = [-1.69, -1.36, -0.974, -0.571, -0.126, 0.37, 0.99]
p3_band_lo = [-2.37, -1.904, -1.372, -0.855, -0.378, 0.046, 0.51]

# ---------------- layout geometry ----------------
W, H = 1196, 429
x_domains = [[58 / W, 420 / W], [449 / W, 811.7 / W], [840 / W, 1.0]]
y_domain = [(H - 406) / H, (H - 35) / H]
strip_top = (H - 9) / H
x_ranges = [[-44.6, 71.2], [-2.4, 52.8], [-0.88, 31.92]]
y_ranges = [[-8.08, 7.2], [-8.62, 7.23], [-8.07, 7.2]]
x_minor = [[-37.5, -12.5, 12.5, 37.5, 62.5], [5, 15, 25, 35, 45], [5, 15, 25]]
y_minor = [-6, -2, 2, 6]
x_tick_sets = [x_ticks_1, x_ticks_2, x_ticks_3]
label_right = [406, 795.7, 1186.7]

SERIF = "Liberation Serif, Times New Roman, serif"
SANS = "Liberation Sans, Arial, sans-serif"
GRID = "#ebebeb"
FRAME = "#4d4d4d"

panels = [
    (p1_scatter + p1_cloud + p1_column, p1_fit_x, p1_fit_y, p1_band_x, p1_band_hi, p1_band_lo),
    (p2_scatter + p2_cluster, p2_fit_x, p2_fit_y, p2_band_x, p2_band_hi, p2_band_lo),
    (p3_scatter + p3_dense + p3_extra, p3_fit_x, p3_fit_y, p3_band_x, p3_band_hi, p3_band_lo),
]

fig = go.Figure()
shapes = []
annotations = []
for i, (pts, fx, fy, bx, bhi, blo) in enumerate(panels):
    sfx = "" if i == 0 else str(i + 1)
    xa, ya = "x" + sfx, "y" + sfx
    fig.add_trace(go.Scatter(
        x=[p[0] for p in pts], y=[p[1] for p in pts], mode="markers",
        marker=dict(size=4.8, color="rgba(0,0,0,0.55)", line=dict(width=0)),
        xaxis=xa, yaxis=ya, showlegend=False, hoverinfo="skip"))
    fig.add_trace(go.Scatter(
        x=bx + bx[::-1], y=bhi + blo[::-1], mode="lines", fill="toself",
        fillcolor="rgba(153,153,153,0.4)", line=dict(width=0),
        xaxis=xa, yaxis=ya, showlegend=False, hoverinfo="skip"))
    fig.add_trace(go.Scatter(
        x=fx, y=fy, mode="lines", line=dict(color="black", width=2.2, dash="10px,6px"),
        xaxis=xa, yaxis=ya, showlegend=False, hoverinfo="skip"))

    common = dict(showgrid=True, gridcolor=GRID, gridwidth=1, zeroline=False,
                  showline=True, mirror=True, linecolor=FRAME, linewidth=1,
                  ticks="outside", ticklen=3, tickwidth=1, tickcolor=FRAME,
                  tickfont=dict(family=SERIF, size=18.5, color="#4d4d4d"))
    xt = x_tick_sets[i]
    fig.layout["xaxis" + sfx] = dict(
        domain=x_domains[i], range=x_ranges[i], anchor=ya,
        tickvals=xt, ticktext=[str(v) for v in xt],
        minor=dict(tickvals=x_minor[i], showgrid=True, gridcolor=GRID, gridwidth=0.5, ticks=""),
        **common)
    fig.layout["yaxis" + sfx] = dict(
        domain=y_domain, range=y_ranges[i], anchor=xa,
        tickvals=y_ticks, ticktext=[str(v) for v in y_ticks],
        minor=dict(tickvals=y_minor, showgrid=True, gridcolor=GRID, gridwidth=0.5, ticks=""),
        **common)

    shapes.append(dict(type="rect", xref="paper", yref="paper",
                       x0=x_domains[i][0], x1=x_domains[i][1], y0=y_domain[1], y1=strip_top,
                       fillcolor="#d9d9d9", line=dict(color=FRAME, width=1), layer="above"))
    annotations.append(dict(xref="paper", yref="paper",
                            x=(x_domains[i][0] + x_domains[i][1]) / 2, y=(y_domain[1] + strip_top) / 2,
                            text=panel_titles[i], showarrow=False, xanchor="center", yanchor="middle",
                            font=dict(family=SERIF, size=19, color="#1a1a1a")))
    annotations.append(dict(xref="paper", yref="paper",
                            x=label_right[i] / W, y=(H - 52) / H,
                            text=r_labels[i], showarrow=False, xanchor="right", yanchor="middle",
                            font=dict(family=SANS, size=13, color="black")))

annotations.append(dict(xref="paper", yref="paper", x=20 / W, y=(H - 228) / H,
                        text="SDA Soil Water Adjustment (mm)", textangle=-90, showarrow=False,
                        xanchor="center", yanchor="middle",
                        font=dict(family=SERIF, size=24, color="black")))

fig.update_layout(
    width=W, height=H, margin=dict(l=0, r=0, t=0, b=0),
    paper_bgcolor="white", plot_bgcolor="white",
    shapes=shapes, annotations=annotations, showlegend=False)

fig.write_html("out.html", config={"displayModeBar": False},
               post_script="document.body.style.margin='0';document.body.style.padding='0';document.body.style.overflow='hidden';")
